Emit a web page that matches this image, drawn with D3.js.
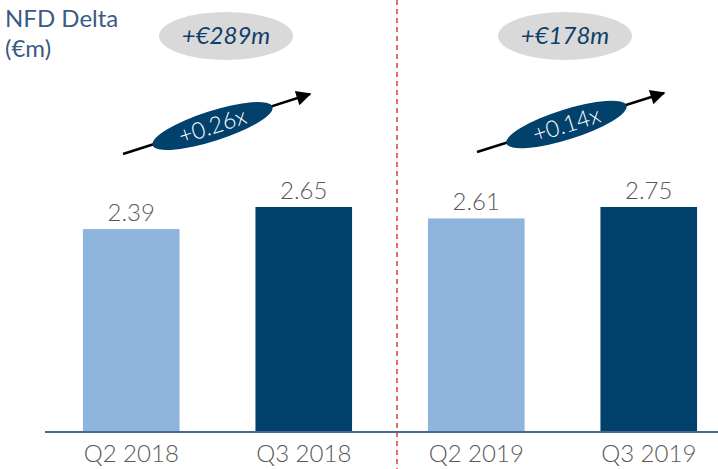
<!DOCTYPE html>
<html lang="en">
<head>
<meta charset="UTF-8">
<title>NFD Delta</title>
<script src="https://d3js.org/d3.v7.min.js"></script>
<style>
  body { margin:0; background:#fff; }
  svg { display:block; font-family: Lato, "Open Sans", sans-serif; }
</style>
</head>
<body>
<svg id="chart" width="718" height="469"></svg>
<script>
// data
var categories = ['Q2 2018', 'Q3 2018', 'Q2 2019', 'Q3 2019'];
var values = [2.39, 2.65, 2.61, 2.75];
var panels = [[0, 1], [2, 3]];          // bar index pairs, each panel has its own scale
var deltas = ['+€289m', '+€178m'];
var multiples = ['+0.26x', '+0.14x'];

var light = '#8fb4dd', dark = '#02416b';
var svg = d3.select('#chart');
var base = 432;

var x = d3.scaleBand().domain(categories).range([45, 735])
  .paddingInner(0.44).paddingOuter(0.22);

// one y scale per panel, tallest bar of each panel reaches the same height
var ys = panels.map(function(p){
  var m = d3.max(p, function(i){ return values[i]; });
  return d3.scaleLinear().domain([0, m]).range([base, 207]);
});
function yOf(i){ return ys[i < 2 ? 0 : 1](values[i]); }

// divider
var divX = x(categories[2]) - 31;
svg.append('line').attr('x1', divX).attr('x2', divX).attr('y1', 0).attr('y2', 469)
  .attr('stroke', '#e0393e').attr('stroke-width', 1.5).attr('stroke-dasharray', '5,4');

// bars
svg.selectAll('rect.bar').data(values).enter().append('rect')
  .attr('class', 'bar')
  .attr('x', function(d, i){ return x(categories[i]); })
  .attr('y', function(d, i){ return yOf(i); })
  .attr('width', x.bandwidth())
  .attr('height', function(d, i){ return base - yOf(i); })
  .attr('fill', function(d, i){ return i % 2 === 0 ? light : dark; });

// value labels
svg.selectAll('text.val').data(values).enter().append('text')
  .attr('class', 'val')
  .attr('x', function(d, i){ return x(categories[i]) + x.bandwidth() / 2; })
  .attr('y', function(d, i){ return yOf(i) - 8; })
  .attr('text-anchor', 'middle')
  .attr('font-size', 24).attr('font-weight', 300).attr('fill', '#595959')
  .text(function(d){ return d3.format('.2f')(d); });

// axis
var axis = svg.append('g').attr('transform', 'translate(0,' + base + ')')
  .call(d3.axisBottom(x).tickSize(0).tickPadding(13));
axis.select('.domain').attr('d', 'M45,0H718').attr('stroke', '#4a6790').attr('stroke-width', 2);
axis.selectAll('text').attr('font-family', 'Lato, sans-serif').attr('font-size', 24)
  .attr('font-weight', 300).attr('fill', '#595959');

// title
svg.append('text').attr('x', 5).attr('y', 27).attr('font-size', 24).attr('fill', '#3b5a85').text('NFD Delta');
svg.append('text').attr('x', 5).attr('y', 57).attr('font-size', 24).attr('fill', '#3b5a85').text('(€m)');

// arrow marker
svg.append('defs').append('marker')
  .attr('id', 'head').attr('viewBox', '0 0 10 10').attr('refX', 9).attr('refY', 5)
  .attr('markerWidth', 7).attr('markerHeight', 6).attr('markerUnits', 'strokeWidth')
  .attr('orient', 'auto')
  .append('path').attr('d', 'M0,0L10,5L0,10Z').attr('fill', '#000');

var bubbleX = [226, 565];
var arrows = [[123, 154, 310, 94], [477, 152, 664, 93]];

panels.forEach(function(p, k){
  // grey bubble with the delta
  svg.append('ellipse').attr('cx', bubbleX[k]).attr('cy', 36).attr('rx', 67).attr('ry', 24)
    .attr('fill', '#d9d9d9');
  svg.append('text').attr('x', bubbleX[k]).attr('y', 44).attr('text-anchor', 'middle')
    .attr('font-size', 24).attr('font-style', 'italic').attr('fill', '#0f3e68')
    .text(deltas[k]);

  // arrow with rotated multiple
  var a = arrows[k];
  svg.append('line').attr('x1', a[0]).attr('y1', a[1]).attr('x2', a[2]).attr('y2', a[3])
    .attr('stroke', '#000').attr('stroke-width', 2.5).attr('marker-end', 'url(#head)');
  var cx = (a[0] + a[2]) / 2 - 4, cy = (a[1] + a[3]) / 2 + 2;
  var ang = Math.atan2(a[3] - a[1], a[2] - a[0]) * 180 / Math.PI;
  var g = svg.append('g').attr('transform', 'translate(' + cx + ',' + cy + ') rotate(' + ang + ')');
  g.append('ellipse').attr('rx', 63).attr('ry', 15).attr('fill', dark);
  g.append('text').attr('y', 8).attr('text-anchor', 'middle').attr('font-size', 23)
    .attr('font-weight', 300).attr('fill', '#fff').text(multiples[k]);
});
</script>
</body>
</html>
